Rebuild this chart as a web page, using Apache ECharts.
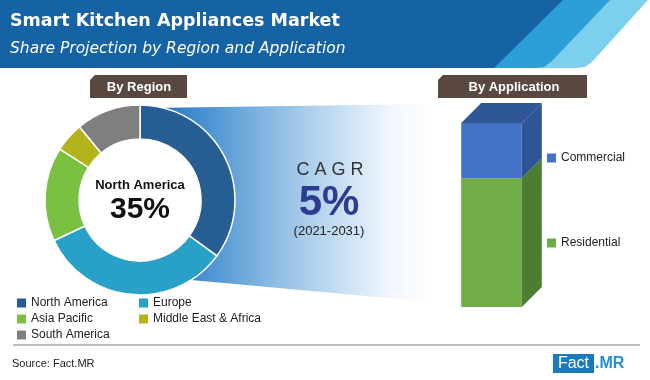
<!DOCTYPE html>
<html>
<head>
<meta charset="utf-8">
<script src="https://cdn.jsdelivr.net/npm/echarts@6/dist/echarts.min.js"></script>
<style>html,body{margin:0;padding:0;background:#fff}#c{width:650px;height:380px}</style>
</head>
<body>
<div id="c"></div>
<script>
// ---- data ----
const regionNames = ['North America', 'Europe', 'Asia Pacific', 'Middle East & Africa', 'South America'];
const regionValues = [35, 33, 16, 5, 11];
const appCategories = ['Application'];
const appNames = ['Residential', 'Commercial'];
const appValues = [70, 30];
const cagrText = '5%';
const cagrPeriod = '(2021-2031)';
const highlightRegion = 'North America';
const highlightValue = '35%';

// ---- styles ----
const regionColors = ['#265d92', '#28a0c8', '#7ac143', '#b3b41d', '#7f7f7f'];
const appFront = {Residential: '#70ad47', Commercial: '#4472c4'};
const appSide = {Residential: '#4d7d31', Commercial: '#2e5596'};
const appTop = '#2e5596';
const FONT = "'Liberation Sans', Arial, sans-serif";
const TITLE_FONT = "'DejaVu Sans', sans-serif";

const chart = echarts.init(document.getElementById('c'));

// stacked ranges for the custom 3D bar
let acc = 0;
const appSeries = appNames.map((name, i) => {
  const s = acc; acc += appValues[i];
  const isLast = i === appNames.length - 1;
  return {
    name: name,
    type: 'custom',
    xAxisIndex: 0, yAxisIndex: 0,
    itemStyle: {color: appFront[name]},
    silent: true,
    data: [[0, s, acc]],
    renderItem: function (params, api) {
      const start = api.coord([api.value(0), api.value(1)]);
      const end = api.coord([api.value(0), api.value(2)]);
      const w = api.size([1, 0])[0] * 0.6;
      const dx = 20, dy = 20;
      const x0 = start[0] - w / 2, x1 = start[0] + w / 2;
      const yb = start[1], yt = end[1];
      const children = [
        {type: 'rect', shape: {x: x0, y: yt, width: w, height: yb - yt}, style: {fill: appFront[name]}},
        {type: 'polygon', shape: {points: [[x1, yb], [x1 + dx, yb - dy], [x1 + dx, yt - dy], [x1, yt]]}, style: {fill: appSide[name]}}
      ];
      if (isLast) {
        children.push({type: 'polygon', shape: {points: [[x0, yt], [x1, yt], [x1 + dx, yt - dy], [x0 + dx, yt - dy]]}, style: {fill: appTop}});
      }
      return {type: 'group', children: children};
    }
  };
});

const legendText = {fontSize: 12, color: '#222', fontFamily: FONT, lineHeight: 12};
const legendItem = {borderWidth: 0};

const option = {
  animation: false,
  grid: {left: 441, top: 123, width: 101, height: 184},
  xAxis: {type: 'category', data: appCategories, show: false},
  yAxis: {type: 'value', min: 0, max: 100, show: false},
  legend: [
    {data: [regionNames[0], regionNames[2], regionNames[4]], orient: 'vertical', left: 12, top: 292,
     icon: 'rect', itemWidth: 9, itemHeight: 9, itemGap: 4, selectedMode: false, textStyle: legendText, itemStyle: legendItem},
    {data: [regionNames[1], regionNames[3]], orient: 'vertical', left: 134, top: 292,
     icon: 'rect', itemWidth: 9, itemHeight: 9, itemGap: 4, selectedMode: false, textStyle: legendText, itemStyle: legendItem},
    {data: appNames.slice().reverse(), orient: 'vertical', left: 542, top: 147,
     icon: 'rect', itemWidth: 9, itemHeight: 9, itemGap: 73, selectedMode: false, textStyle: legendText, itemStyle: legendItem}
  ],
  series: [
    {
      type: 'pie', name: 'Region', silent: true,
      center: [140, 200], radius: [61, 95], startAngle: 90, clockwise: true,
      label: {show: false}, labelLine: {show: false},
      itemStyle: {borderColor: '#fff', borderWidth: 1.5},
      color: regionColors,
      data: regionNames.map((n, i) => ({name: n, value: regionValues[i]})),
      z: 5
    }
  ].concat(appSeries),
  graphic: [
    // header bands
    {type: 'polygon', z: 1, shape: {points: [[588, 0], [648, 0], [592, 62], [585, 67], [576, 68], [520, 68]]}, style: {fill: '#7dcfee'}},
    {type: 'polygon', z: 2, shape: {points: [[550, 0], [610, 0], [551, 62], [544, 67], [535, 68], [480, 68]]}, style: {fill: '#2c9fd7'}},
    {type: 'polygon', z: 3, shape: {points: [[0, 0], [563, 0], [494, 68], [0, 68]]}, style: {fill: '#1563a4'}},
    {type: 'text', z: 10, x: 10, y: 21, style: {text: 'Smart Kitchen Appliances Market', fill: '#fff', font: "bold 17.5px " + TITLE_FONT, verticalAlign: 'middle'}},
    {type: 'text', z: 10, x: 10, y: 48.5, style: {text: 'Share Projection by Region and Application', fill: '#fff', font: "italic 15.5px " + TITLE_FONT, verticalAlign: 'middle'}},
    // section tags
    {type: 'polygon', z: 3, shape: {points: [[95, 75], [187, 75], [187, 98], [90, 98], [90, 80]]}, style: {fill: '#584840'}},
    {type: 'text', z: 10, x: 139, y: 87, style: {text: 'By Region', fill: '#fff', font: 'bold 13px ' + FONT, align: 'center', verticalAlign: 'middle'}},
    {type: 'polygon', z: 3, shape: {points: [[443, 75], [587, 75], [587, 98], [438, 98], [438, 80]]}, style: {fill: '#584840'}},
    {type: 'text', z: 10, x: 514, y: 87, style: {text: 'By Application', fill: '#fff', font: 'bold 13px ' + FONT, align: 'center', verticalAlign: 'middle'}},
    // gradient funnel
    {type: 'polygon', z: 0, shape: {points: [[150, 108], [432, 104], [432, 302], [180, 279], [215, 200], [195, 140]]},
     style: {fill: new echarts.graphic.LinearGradient(0, 0, 1, 0, [
       {offset: 0, color: '#1f6fbe'}, {offset: 0.2, color: '#4a93d2'}, {offset: 0.55, color: '#a9cdeb'}, {offset: 0.85, color: '#f0f6fc'}, {offset: 1, color: '#ffffff'}])}},
    // donut center
    {type: 'text', z: 10, x: 140, y: 185, style: {text: highlightRegion, fill: '#111', font: 'bold 13px ' + FONT, align: 'center', verticalAlign: 'middle'}},
    {type: 'text', z: 10, x: 140, y: 210, style: {text: highlightValue, fill: '#111', font: 'bold 30px ' + FONT, align: 'center', verticalAlign: 'middle'}},
    // CAGR
    {type: 'text', z: 10, x: 330, y: 170, style: {text: 'C A G R', fill: '#333', font: '18px ' + FONT, align: 'center', verticalAlign: 'middle'}},
    {type: 'text', z: 10, x: 329, y: 203, style: {text: cagrText, fill: '#2e3b8f', font: 'bold 42px ' + FONT, align: 'center', verticalAlign: 'middle'}},
    {type: 'text', z: 10, x: 329, y: 231, style: {text: cagrPeriod, fill: '#222', font: '13px ' + FONT, align: 'center', verticalAlign: 'middle'}},
    // footer
    {type: 'line', z: 3, shape: {x1: 13, y1: 345, x2: 640, y2: 345}, style: {stroke: '#aaaaaa', lineWidth: 1.5}},
    {type: 'text', z: 10, x: 12, y: 364, style: {text: 'Source: Fact.MR', fill: '#222', font: '11px ' + FONT, verticalAlign: 'middle'}},
    {type: 'rect', z: 3, shape: {x: 553, y: 354, width: 41, height: 19}, style: {fill: '#1b79be'}},
    {type: 'text', z: 10, x: 573.5, y: 364, style: {text: 'Fact', fill: '#fff', font: '16px ' + FONT, align: 'center', verticalAlign: 'middle'}},
    {type: 'text', z: 10, x: 595, y: 364, style: {text: '.MR', fill: '#1e90d8', font: 'bold 16px ' + FONT, verticalAlign: 'middle'}}
  ]
};
chart.setOption(option);
</script>
</body>
</html>
